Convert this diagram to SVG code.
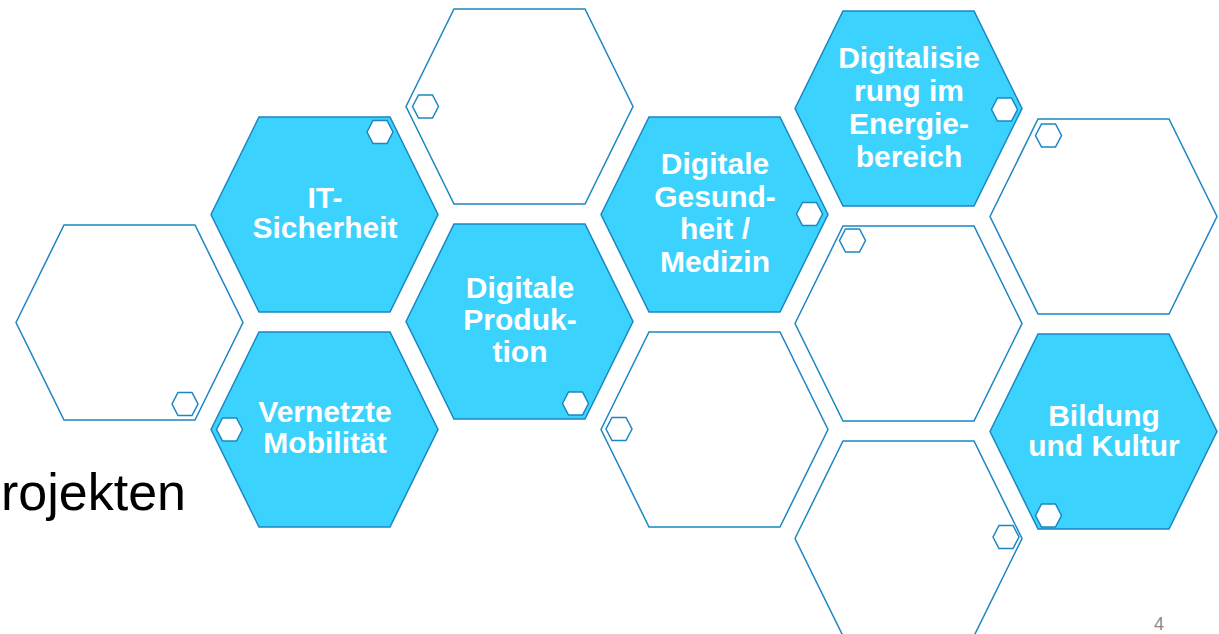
<svg xmlns="http://www.w3.org/2000/svg" xmlns:xlink="http://www.w3.org/1999/xlink" width="1219" height="634" viewBox="0 0 1219 634">
<style>
.hx{stroke:#1B86C2;stroke-width:1.5;stroke-linejoin:miter}
.full{fill:#3CD2FE}
.empty{fill:#FFFFFF}
.sm{fill:#FFFFFF;stroke:#1B86C2;stroke-width:1.5}
.lbl{font-family:"Liberation Sans",Arial,sans-serif;font-weight:bold;font-size:30px;fill:#FFFFFF;text-anchor:middle}
</style>
<defs>
<polygon id="big" points="0,97.5 48,0 179,0 227,97.5 179,195 48,195"/>
<polygon id="small" points="-13,0 -7,-11.5 7,-11.5 13,0 7,11.5 -7,11.5"/>
</defs>
<rect width="1219" height="634" fill="#FFFFFF"/>
<text x="1" y="510" font-family="'Liberation Sans',Arial,sans-serif" font-size="52" fill="#000000">rojekten</text>
<g id="connectors"/>
<g id="hex-empty-1"><use xlink:href="#big" class="hx empty" x="16" y="225"/><use xlink:href="#small" class="sm" x="185" y="404"/></g>
<g id="hex-it-sicherheit"><use xlink:href="#big" class="hx full" x="211" y="117"/><use xlink:href="#small" class="sm" x="380" y="132"/>
<text class="lbl" x="325" y="208">IT-</text><text class="lbl" x="325" y="238">Sicherheit</text></g>
<g id="hex-vernetzte-mobilitaet"><use xlink:href="#big" class="hx full" x="211" y="332"/><use xlink:href="#small" class="sm" x="229.5" y="429.5"/>
<text class="lbl" x="325" y="421.5">Vernetzte</text><text class="lbl" x="325" y="452.5">Mobilität</text></g>
<g id="hex-empty-2"><use xlink:href="#big" class="hx empty" x="406" y="9"/><use xlink:href="#small" class="sm" x="425.5" y="106.5"/></g>
<g id="hex-digitale-produktion"><use xlink:href="#big" class="hx full" x="406" y="224"/><use xlink:href="#small" class="sm" x="575.5" y="403.5"/>
<text class="lbl" x="520" y="297.7">Digitale</text><text class="lbl" x="520" y="330">Produk-</text><text class="lbl" x="520" y="362.3">tion</text></g>
<g id="hex-digitale-gesundheit"><use xlink:href="#big" class="hx full" x="601" y="117"/><use xlink:href="#small" class="sm" x="809.5" y="214"/>
<text class="lbl" x="715" y="174.3">Digitale</text><text class="lbl" x="715" y="206.8">Gesund-</text><text class="lbl" x="715" y="239.3">heit /</text><text class="lbl" x="715" y="271.8">Medizin</text></g>
<g id="hex-empty-3"><use xlink:href="#big" class="hx empty" x="601" y="332"/><use xlink:href="#small" class="sm" x="619" y="429"/></g>
<g id="hex-digitalisierung-energie"><use xlink:href="#big" class="hx full" x="795" y="11"/><use xlink:href="#small" class="sm" x="1004.5" y="109.5"/>
<text class="lbl" x="909" y="68.3">Digitalisie</text><text class="lbl" x="909" y="101.1">rung im</text><text class="lbl" x="909" y="133.9">Energie-</text><text class="lbl" x="909" y="166.7">bereich</text></g>
<g id="hex-empty-4"><use xlink:href="#big" class="hx empty" x="795" y="226"/><use xlink:href="#small" class="sm" x="852.5" y="240.5"/></g>
<g id="hex-empty-5"><use xlink:href="#big" class="hx empty" x="795" y="441"/><use xlink:href="#small" class="sm" x="1006" y="537"/></g>
<g id="hex-empty-6"><use xlink:href="#big" class="hx empty" x="990" y="119"/><use xlink:href="#small" class="sm" x="1048.5" y="135.5"/></g>
<g id="hex-bildung-kultur"><use xlink:href="#big" class="hx full" x="990" y="334"/><use xlink:href="#small" class="sm" x="1048.5" y="515.5"/>
<text class="lbl" x="1104" y="426">Bildung</text><text class="lbl" x="1104" y="456">und Kultur</text></g>
<text x="1154" y="630" font-family="'Liberation Sans',Arial,sans-serif" font-size="18" fill="#888888">4</text>
</svg>
